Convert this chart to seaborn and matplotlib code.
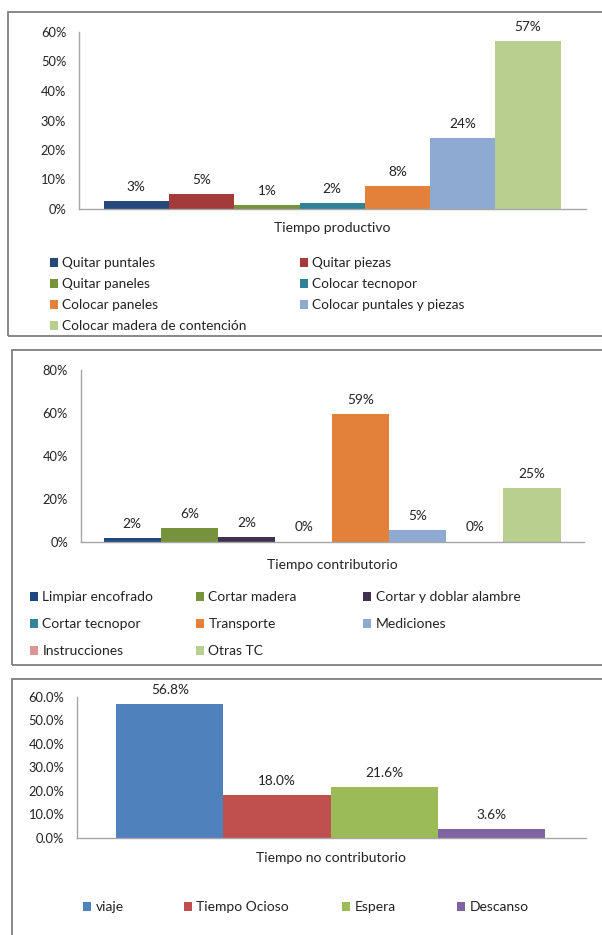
import matplotlib
matplotlib.use("Agg")
import matplotlib.pyplot as plt
from matplotlib.patches import Rectangle, Patch
import seaborn as sns
import pandas as pd

# --- datos ---
prod_cats = ['Quitar puntales', 'Quitar piezas', 'Quitar paneles', 'Colocar tecnopor',
             'Colocar paneles', 'Colocar puntales y piezas', 'Colocar madera de contención']
prod_vals = [2.6, 5.1, 1.4, 1.9, 7.8, 24.0, 57.0]
prod_colors = ['#26497A', '#A23B39', '#76923C', '#2E8196', '#E3803A', '#8FAAD2', '#B9CF90']

contr_cats = ['Limpiar encofrado', 'Cortar madera', 'Cortar y doblar alambre', 'Cortar tecnopor',
              'Transporte', 'Mediciones', 'Instrucciones', 'Otras TC']
contr_vals = [1.6, 6.2, 2.0, 0.0, 59.4, 5.4, 0.0, 24.9]
contr_colors = ['#1F497D', '#76923C', '#403152', '#31859C', '#E3803A', '#8FAAD2', '#D99694', '#B9CF90']

nc_cats = ['viaje', 'Tiempo Ocioso', 'Espera', 'Descanso']
nc_vals = [56.8, 18.0, 21.6, 3.6]
nc_colors = ['#4F81BD', '#C0504D', '#9BBB59', '#8064A2']

sns.set_style("white")
plt.rcParams['font.family'] = ['Lato', 'DejaVu Sans']
plt.rcParams['text.color'] = '#222222'

W, H = 602, 935
fig = plt.figure(figsize=(W / 100, H / 100), dpi=100)


def px_axes(left, right, bottom, top):
    return fig.add_axes([left / W, 1 - bottom / H, (right - left) / W, (bottom - top) / H])


def bar_panel(ax, cats, vals, colors, ymax, ystep, fmt, tickfmt, xlabel, xlim, label_dy):
    df = pd.DataFrame({'cat': cats, 'val': vals})
    sns.barplot(data=df, x='cat', y='val', hue='cat', order=cats, hue_order=cats,
                palette=dict(zip(cats, colors)), width=1.0, saturation=1,
                legend=False, ax=ax, linewidth=0)
    for cont, v in zip(ax.containers, vals):
        ax.bar_label(cont, labels=[fmt.format(v)], padding=6, fontsize=9.8, color='#222222')
    ax.set_ylim(0, ymax)
    ax.set_xlim(*xlim)
    ticks = list(range(0, ymax + 1, ystep))
    ax.set_yticks(ticks)
    ax.set_yticklabels([tickfmt.format(t) for t in ticks])
    ax.tick_params(axis='y', length=0, pad=9, labelsize=9.3, labelcolor='#222222')
    ax.set_xticks([])
    ax.set_xlabel('')
    ax.set_ylabel('')
    for s in ['top', 'right']:
        ax.spines[s].set_visible(False)
    for s in ['left', 'bottom']:
        ax.spines[s].set_color('#A6A6A6')
        ax.spines[s].set_linewidth(1.0)
    ax.annotate(xlabel, xy=(0.5, 0), xycoords='axes fraction', xytext=(0, -label_dy * 0.72),
                textcoords='offset points', ha='center', va='center', fontsize=10)


def legend_grid(labels, colors, col_x, row_y, ncol, size):
    for i, (lab, col) in enumerate(zip(labels, colors)):
        x = col_x[i % ncol]
        y = row_y[i // ncol]
        fig.legend(handles=[Patch(facecolor=col, edgecolor='none')], labels=[lab],
                   loc='center left', bbox_to_anchor=(x / W, 1 - y / H), frameon=False,
                   borderpad=0, borderaxespad=0, handlelength=0.6, handleheight=0.6,
                   handletextpad=0.3, fontsize=size)


def border(x0, y0, x1, y1):
    fig.add_artist(Rectangle((x0 / W, 1 - y1 / H), (x1 - x0) / W, (y1 - y0) / H,
                             transform=fig.transFigure, fill=False,
                             edgecolor='#7F7F7F', linewidth=1.3))


# panel 1: tiempo productivo
border(8, 12, 640, 336)
ax1 = px_axes(78.7, 585.5, 209, 32)
bar_panel(ax1, prod_cats, prod_vals, prod_colors, 60, 10, '{:.0f}%', '{}%',
          'Tiempo productivo', (-0.883, 6.881), 19)
legend_grid(prod_cats, prod_colors, [50, 300], [263, 284, 305, 326], 2, 9.8)

# panel 2: tiempo contributorio
border(11.5, 350, 640, 665)
ax2 = px_axes(80.6, 583.6, 541.7, 370)
bar_panel(ax2, contr_cats, contr_vals, contr_colors, 80, 20, '{:.0f}%', '{}%',
          'Tiempo contributorio', (-0.905, 7.904), 23)
legend_grid(contr_cats, contr_colors, [30, 196, 363], [597, 624, 651], 3, 10)

# panel 3: tiempo no contributorio
border(11.5, 679, 640, 960)
ax3 = px_axes(76.8, 585.5, 837.7, 696.7)
bar_panel(ax3, nc_cats, nc_vals, nc_colors, 60, 10, '{:.1f}%', '{:.1f}%',
          'Tiempo no contributorio', (-0.868, 3.877), 20.6)
legend_grid(nc_cats, nc_colors, [83, 184, 342, 457], [907], 4, 10)

fig.savefig('out.png', dpi=100)
